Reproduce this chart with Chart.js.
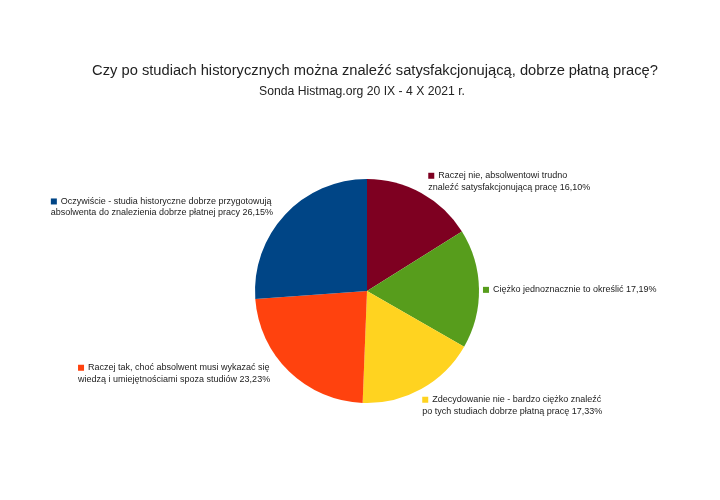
<!DOCTYPE html>
<html lang="pl">
<head>
    <meta charset="UTF-8">
    <title>Sonda Histmag.org</title>
    <script src="https://cdn.jsdelivr.net/npm/chart.js"></script>
    <style>
        html, body { margin: 0; padding: 0; background: #fff; }
        #wrap { width: 720px; height: 500px; }
    </style>
</head>
<body>
    <div id="wrap"><canvas id="myChart" width="720" height="500"></canvas></div>

    <script>
        // Answers (each one split into the two lines used on the chart)
        const answers = [
            ['Raczej nie, absolwentowi trudno', 'znaleźć satysfakcjonującą pracę'],
            ['Ciężko jednoznacznie to określić'],
            ['Zdecydowanie nie - bardzo ciężko znaleźć', 'po tych studiach dobrze płatną pracę'],
            ['Raczej tak, choć absolwent musi wykazać się', 'wiedzą i umiejętnościami spoza studiów'],
            ['Oczywiście - studia historyczne dobrze przygotowują', 'absolwenta do znalezienia dobrze płatnej pracy']
        ];
        const percents = [16.10, 17.19, 17.33, 23.23, 26.15];
        const colors = ['#7e0021', '#579d1c', '#ffd320', '#ff420e', '#004586'];

        const titleText = 'Czy po studiach historycznych można znaleźć satysfakcjonującą, dobrze płatną pracę?';
        const subtitleText = 'Sonda Histmag.org 20 IX - 4 X 2021 r.';

        // where each label sits relative to the outer edge of its slice
        const labelPlace = [
            { align: 'left',  base: 'bottom', dx: 7,   dy: 0 },
            { align: 'left',  base: 'middle', dx: 4,   dy: 1 },
            { align: 'left',  base: 'top',    dx: 1,   dy: 5 },
            { align: 'right', base: 'middle', dx: -19, dy: 2 },
            { align: 'right', base: 'bottom', dx: -12, dy: 4 }
        ];

        const fmt = v => v.toFixed(2).replace('.', ',') + '%';

        const textPlugin = {
            id: 'textPlugin',
            afterDraw(chart) {
                const ctx = chart.ctx;
                ctx.save();
                ctx.fillStyle = '#222';
                ctx.textAlign = 'center';
                ctx.textBaseline = 'middle';
                ctx.font = '14.7px "Liberation Sans", Arial, sans-serif';
                ctx.fillText(titleText, 375, 71);
                ctx.font = '12.2px "Liberation Sans", Arial, sans-serif';
                ctx.fillText(subtitleText, 362, 92);

                // slice labels
                ctx.font = '9px "Liberation Sans", Arial, sans-serif';
                ctx.textAlign = 'left';
                const lineH = 11.5;
                const box = 6;
                const meta = chart.getDatasetMeta(0);
                meta.data.forEach((arc, i) => {
                    const p = arc.getProps(['x', 'y', 'startAngle', 'endAngle', 'outerRadius'], true);
                    const mid = (p.startAngle + p.endAngle) / 2;
                    const ax = p.x + Math.cos(mid) * p.outerRadius;
                    const ay = p.y + Math.sin(mid) * p.outerRadius;
                    const lines = answers[i].slice();
                    lines[lines.length - 1] += ' ' + fmt(percents[i]);
                    const firstPrefix = box + 4;
                    let w = 0;
                    lines.forEach((l, k) => {
                        w = Math.max(w, ctx.measureText(l).width + (k === 0 ? firstPrefix : 0));
                    });
                    const h = lines.length * lineH;
                    const pl = labelPlace[i];
                    let left = ax + pl.dx;
                    if (pl.align === 'right') left -= w;
                    let top = ay + pl.dy;
                    if (pl.base === 'bottom') top -= h;
                    else if (pl.base === 'middle') top -= h / 2;

                    lines.forEach((l, k) => {
                        const cy = top + lineH * k + lineH / 2;
                        let tx = left;
                        if (k === 0) {
                            ctx.fillStyle = colors[i];
                            ctx.fillRect(left, cy - box / 2, box, box);
                            tx += firstPrefix;
                        }
                        ctx.fillStyle = '#222';
                        ctx.fillText(l, tx, cy);
                    });
                });
                ctx.restore();
            }
        };

        const ctx = document.getElementById('myChart').getContext('2d');
        const chart = new Chart(ctx, {
            type: 'pie',
            data: {
                labels: answers.map(a => a.join(' ')),
                datasets: [{
                    data: percents,
                    backgroundColor: colors,
                    borderWidth: 0
                }]
            },
            options: {
                responsive: false,
                animation: false,
                layout: {
                    padding: { top: 179, bottom: 97, left: 255, right: 241 }
                },
                plugins: {
                    legend: { display: false },
                    tooltip: { enabled: false }
                }
            },
            plugins: [textPlugin]
        });
    </script>
</body>
</html>
